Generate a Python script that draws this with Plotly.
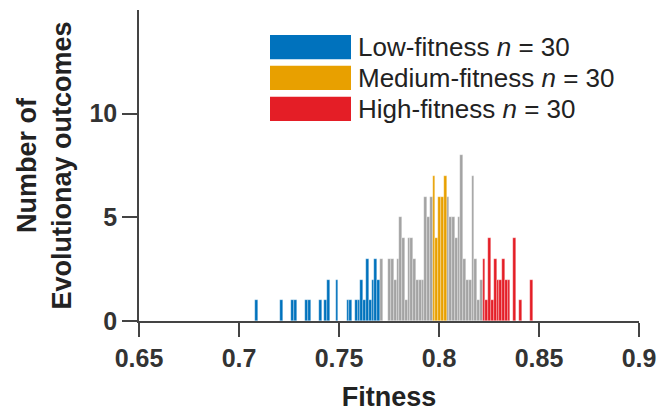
import plotly.graph_objects as go

# Histogram binning (100 bins spanning the data range)
bin_lo = 0.708
bin_hi = 0.8468
n_bins = 100

# Bin indices and counts per group
low_bin = [0, 9, 13, 14, 18, 19, 23, 25, 26, 29, 33, 34, 36, 37, 38, 39, 40, 41, 42, 43, 44]
low_cnt = [1, 1, 1, 1, 1, 1, 1, 1, 2, 2, 1, 1, 1, 1, 2, 1, 3, 1, 2, 3, 2]

mid_bin = [64, 65, 66, 67, 68]
mid_cnt = [7, 4, 6, 6, 7]

high_bin = [82, 83, 84, 85, 86, 87, 88, 89, 90, 91, 93, 95, 99]
high_cnt = [3, 1, 4, 1, 3, 2, 2, 3, 2, 2, 4, 1, 2]

other_bin = [45, 48, 49, 50, 51, 52, 53, 54, 55, 56, 57, 58, 59, 60, 61, 62, 63,
             69, 70, 71, 72, 73, 74, 75, 76, 77, 78, 79, 80, 81]
other_cnt = [3, 3, 3, 2, 3, 5, 4, 1, 4, 4, 3, 2, 2, 2, 6, 5, 6,
             6, 5, 5, 4, 5, 8, 3, 2, 2, 7, 3, 1, 2]

legend_labels = ["Low-fitness <i>n</i> = 30", "Medium-fitness <i>n</i> = 30", "High-fitness <i>n</i> = 30"]

x_ticks = [0.65, 0.7, 0.75, 0.8, 0.85, 0.9]
x_ticktext = ["0.65", "0.7", "0.75", "0.8", "0.85", "0.9"]
y_ticks = [0, 5, 10]

COL_LOW = "#0072BD"
COL_MID = "#E8A000"
COL_HIGH = "#E41E26"
COL_OTHER = "#A3A3A3"

bw = (bin_hi - bin_lo) / n_bins


def centers(bins):
    return [bin_lo + (b + 0.5) * bw for b in bins]


fig = go.Figure()
for bins, cnts, col in [(other_bin, other_cnt, COL_OTHER), (low_bin, low_cnt, COL_LOW),
                        (mid_bin, mid_cnt, COL_MID), (high_bin, high_cnt, COL_HIGH)]:
    fig.add_trace(go.Bar(x=centers(bins), y=cnts, width=bw,
                         marker=dict(color=col, line=dict(color="rgba(255,255,255,0.6)", width=0.5)),
                         showlegend=False, hoverinfo="skip"))

FONT = "Liberation Sans, Arial, Helvetica, sans-serif"

fig.update_layout(
    width=660, height=412,
    margin=dict(l=139, r=21, t=10, b=91),
    paper_bgcolor="white", plot_bgcolor="white",
    barmode="overlay", bargap=0,
    font=dict(family=FONT, color="#222222"),
    xaxis=dict(range=[0.65, 0.9], tickvals=x_ticks, ticktext=x_ticktext, ticks="outside", ticklen=14,
               tickwidth=1.5, tickcolor="#444444", showline=True, linecolor="#444444", linewidth=1.5,
               showgrid=False, zeroline=False, automargin=False,
               tickfont=dict(size=25, family=FONT, color="#333333", weight="bold"),
               title=dict(text="Fitness", font=dict(size=27, family=FONT, color="#222222", weight="bold"), standoff=16)),
    yaxis=dict(range=[0, 15], tickvals=y_ticks, ticks="outside", ticklen=15, tickwidth=1.5, tickcolor="#444444",
               showline=True, linecolor="#444444", linewidth=1.5, showgrid=False, zeroline=False, automargin=False,
               tickfont=dict(size=25, family=FONT, color="#333333", weight="bold"),
               title=dict(text="Number of<br>Evolutionay outcomes",
                          font=dict(size=27, family=FONT, color="#222222", weight="bold"), standoff=10)),
)

# Legend drawn as colored boxes with labels (paper coordinates)
box_x0, box_x1, text_x = 0.262, 0.424, 0.434
row_top, row_h, row_step = 0.920, 0.078, 0.0995
for i, (lab, col) in enumerate(zip(legend_labels, [COL_LOW, COL_MID, COL_HIGH])):
    y1 = row_top - i * row_step
    y0 = y1 - row_h
    fig.add_shape(type="rect", xref="paper", yref="paper", x0=box_x0, x1=box_x1, y0=y0, y1=y1,
                  fillcolor=col, line=dict(width=0))
    fig.add_annotation(xref="paper", yref="paper", x=text_x, y=(y0 + y1) / 2, text=lab, showarrow=False,
                       xanchor="left", yanchor="middle", font=dict(size=26, family=FONT, color="#222222"))

fig.write_html("out.html")
